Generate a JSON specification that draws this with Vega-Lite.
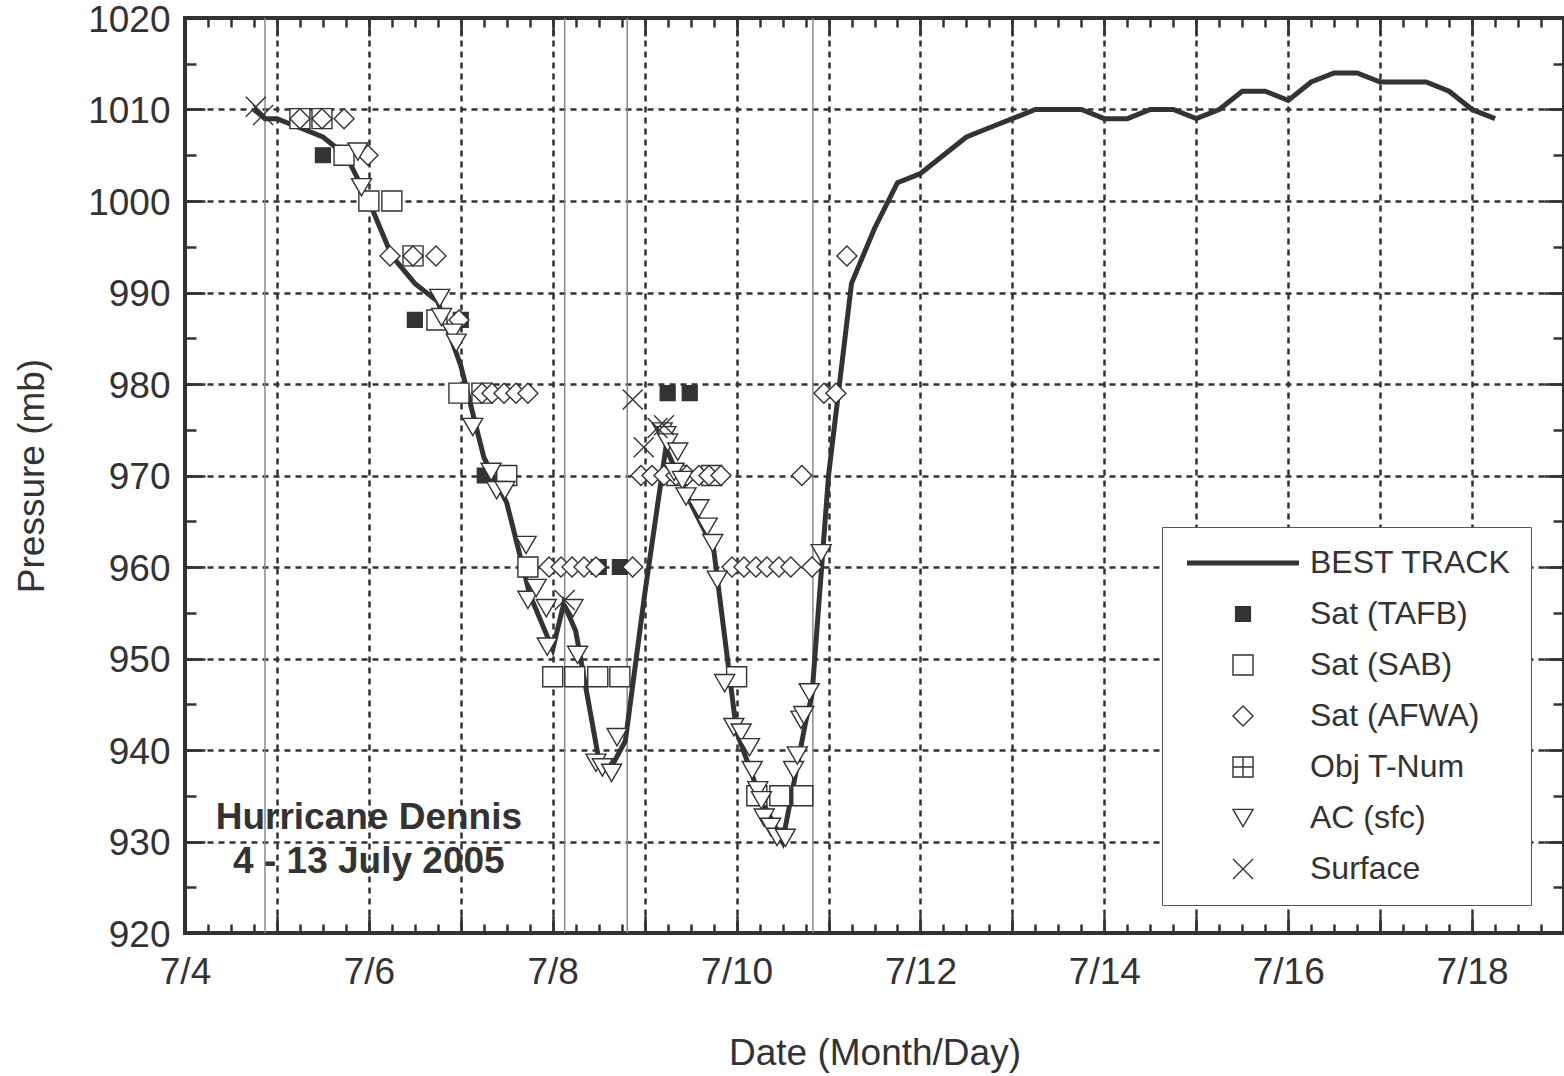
{
  "$schema": "https://vega.github.io/schema/vega-lite/v6.json",
  "width": 1379,
  "height": 915,
  "autosize": {"type": "none"},
  "padding": {"left": 185, "top": 18, "right": 0, "bottom": 143},
  "background": "white",
  "config": {
    "font": "Liberation Sans",
    "view": {"stroke": "#333333", "strokeWidth": 4},
    "axis": {"labelFont": "Liberation Sans", "titleFont": "Liberation Sans", "labelColor": "#333333", "titleColor": "#333333", "tickColor": "#333333", "tickWidth": 2.5, "domain": false, "titleFontWeight": "normal", "labelFontSize": 37, "titleFontSize": 37}
  },
  "resolve": {"axis": {"x": "independent", "y": "independent"}},
  "datasets": {
    "bt": [
      {"d": 4.75, "p": 1010, "source": "BEST TRACK"},
      {"d": 4.87, "p": 1009, "source": "BEST TRACK"},
      {"d": 5.0, "p": 1009, "source": "BEST TRACK"},
      {"d": 5.25, "p": 1008, "source": "BEST TRACK"},
      {"d": 5.5, "p": 1007, "source": "BEST TRACK"},
      {"d": 5.75, "p": 1005, "source": "BEST TRACK"},
      {"d": 6.0, "p": 1000, "source": "BEST TRACK"},
      {"d": 6.25, "p": 994, "source": "BEST TRACK"},
      {"d": 6.5, "p": 991, "source": "BEST TRACK"},
      {"d": 6.75, "p": 989, "source": "BEST TRACK"},
      {"d": 7.0, "p": 982, "source": "BEST TRACK"},
      {"d": 7.25, "p": 972, "source": "BEST TRACK"},
      {"d": 7.5, "p": 967, "source": "BEST TRACK"},
      {"d": 7.75, "p": 957, "source": "BEST TRACK"},
      {"d": 8.0, "p": 951, "source": "BEST TRACK"},
      {"d": 8.12, "p": 956, "source": "BEST TRACK"},
      {"d": 8.25, "p": 953, "source": "BEST TRACK"},
      {"d": 8.5, "p": 939, "source": "BEST TRACK"},
      {"d": 8.63, "p": 938, "source": "BEST TRACK"},
      {"d": 8.79, "p": 941, "source": "BEST TRACK"},
      {"d": 9.0, "p": 957, "source": "BEST TRACK"},
      {"d": 9.23, "p": 973, "source": "BEST TRACK"},
      {"d": 9.5, "p": 967, "source": "BEST TRACK"},
      {"d": 9.75, "p": 962, "source": "BEST TRACK"},
      {"d": 10.0, "p": 942, "source": "BEST TRACK"},
      {"d": 10.25, "p": 935, "source": "BEST TRACK"},
      {"d": 10.5, "p": 930, "source": "BEST TRACK"},
      {"d": 10.75, "p": 943, "source": "BEST TRACK"},
      {"d": 10.82, "p": 946, "source": "BEST TRACK"},
      {"d": 11.0, "p": 970, "source": "BEST TRACK"},
      {"d": 11.25, "p": 991, "source": "BEST TRACK"},
      {"d": 11.5, "p": 997, "source": "BEST TRACK"},
      {"d": 11.75, "p": 1002, "source": "BEST TRACK"},
      {"d": 12.0, "p": 1003, "source": "BEST TRACK"},
      {"d": 12.25, "p": 1005, "source": "BEST TRACK"},
      {"d": 12.5, "p": 1007, "source": "BEST TRACK"},
      {"d": 12.75, "p": 1008, "source": "BEST TRACK"},
      {"d": 13.0, "p": 1009, "source": "BEST TRACK"},
      {"d": 13.25, "p": 1010, "source": "BEST TRACK"},
      {"d": 13.5, "p": 1010, "source": "BEST TRACK"},
      {"d": 13.75, "p": 1010, "source": "BEST TRACK"},
      {"d": 14.0, "p": 1009, "source": "BEST TRACK"},
      {"d": 14.25, "p": 1009, "source": "BEST TRACK"},
      {"d": 14.5, "p": 1010, "source": "BEST TRACK"},
      {"d": 14.75, "p": 1010, "source": "BEST TRACK"},
      {"d": 15.0, "p": 1009, "source": "BEST TRACK"},
      {"d": 15.25, "p": 1010, "source": "BEST TRACK"},
      {"d": 15.5, "p": 1012, "source": "BEST TRACK"},
      {"d": 15.75, "p": 1012, "source": "BEST TRACK"},
      {"d": 16.0, "p": 1011, "source": "BEST TRACK"},
      {"d": 16.25, "p": 1013, "source": "BEST TRACK"},
      {"d": 16.5, "p": 1014, "source": "BEST TRACK"},
      {"d": 16.75, "p": 1014, "source": "BEST TRACK"},
      {"d": 17.0, "p": 1013, "source": "BEST TRACK"},
      {"d": 17.25, "p": 1013, "source": "BEST TRACK"},
      {"d": 17.5, "p": 1013, "source": "BEST TRACK"},
      {"d": 17.75, "p": 1012, "source": "BEST TRACK"},
      {"d": 18.0, "p": 1010, "source": "BEST TRACK"},
      {"d": 18.25, "p": 1009, "source": "BEST TRACK"}
    ],
    "obs": [
      {"d": 5.5, "p": 1005, "source": "Sat (TAFB)"},
      {"d": 5.75, "p": 1005, "source": "Sat (TAFB)"},
      {"d": 6.0, "p": 1000, "source": "Sat (TAFB)"},
      {"d": 6.5, "p": 987, "source": "Sat (TAFB)"},
      {"d": 6.75, "p": 987, "source": "Sat (TAFB)"},
      {"d": 7.0, "p": 987, "source": "Sat (TAFB)"},
      {"d": 7.26, "p": 970, "source": "Sat (TAFB)"},
      {"d": 7.5, "p": 970, "source": "Sat (TAFB)"},
      {"d": 7.75, "p": 960, "source": "Sat (TAFB)"},
      {"d": 8.0, "p": 948, "source": "Sat (TAFB)"},
      {"d": 8.24, "p": 948, "source": "Sat (TAFB)"},
      {"d": 8.5, "p": 960, "source": "Sat (TAFB)"},
      {"d": 8.73, "p": 960, "source": "Sat (TAFB)"},
      {"d": 9.25, "p": 979, "source": "Sat (TAFB)"},
      {"d": 9.49, "p": 979, "source": "Sat (TAFB)"},
      {"d": 9.77, "p": 970, "source": "Sat (TAFB)"},
      {"d": 10.0, "p": 948, "source": "Sat (TAFB)"},
      {"d": 10.47, "p": 935, "source": "Sat (TAFB)"},
      {"d": 10.72, "p": 935, "source": "Sat (TAFB)"},
      {"d": 5.25, "p": 1009, "source": "Sat (SAB)"},
      {"d": 5.49, "p": 1009, "source": "Sat (SAB)"},
      {"d": 5.73, "p": 1005, "source": "Sat (SAB)"},
      {"d": 6.0, "p": 1000, "source": "Sat (SAB)"},
      {"d": 6.25, "p": 1000, "source": "Sat (SAB)"},
      {"d": 6.48, "p": 994, "source": "Sat (SAB)"},
      {"d": 6.74, "p": 987, "source": "Sat (SAB)"},
      {"d": 6.98, "p": 979, "source": "Sat (SAB)"},
      {"d": 7.23, "p": 979, "source": "Sat (SAB)"},
      {"d": 7.5, "p": 970, "source": "Sat (SAB)"},
      {"d": 7.73, "p": 960, "source": "Sat (SAB)"},
      {"d": 8.0, "p": 948, "source": "Sat (SAB)"},
      {"d": 8.24, "p": 948, "source": "Sat (SAB)"},
      {"d": 8.49, "p": 948, "source": "Sat (SAB)"},
      {"d": 8.73, "p": 948, "source": "Sat (SAB)"},
      {"d": 9.35, "p": 970, "source": "Sat (SAB)"},
      {"d": 9.73, "p": 970, "source": "Sat (SAB)"},
      {"d": 10.0, "p": 948, "source": "Sat (SAB)"},
      {"d": 10.22, "p": 935, "source": "Sat (SAB)"},
      {"d": 10.47, "p": 935, "source": "Sat (SAB)"},
      {"d": 10.72, "p": 935, "source": "Sat (SAB)"},
      {"d": 5.25, "p": 1009, "source": "Sat (AFWA)"},
      {"d": 5.49, "p": 1009, "source": "Sat (AFWA)"},
      {"d": 5.73, "p": 1009, "source": "Sat (AFWA)"},
      {"d": 5.99, "p": 1005, "source": "Sat (AFWA)"},
      {"d": 6.23, "p": 994, "source": "Sat (AFWA)"},
      {"d": 6.48, "p": 994, "source": "Sat (AFWA)"},
      {"d": 6.73, "p": 994, "source": "Sat (AFWA)"},
      {"d": 6.98, "p": 987, "source": "Sat (AFWA)"},
      {"d": 7.23, "p": 979, "source": "Sat (AFWA)"},
      {"d": 7.34, "p": 979, "source": "Sat (AFWA)"},
      {"d": 7.47, "p": 979, "source": "Sat (AFWA)"},
      {"d": 7.6, "p": 979, "source": "Sat (AFWA)"},
      {"d": 7.73, "p": 979, "source": "Sat (AFWA)"},
      {"d": 7.96, "p": 960, "source": "Sat (AFWA)"},
      {"d": 8.09, "p": 960, "source": "Sat (AFWA)"},
      {"d": 8.21, "p": 960, "source": "Sat (AFWA)"},
      {"d": 8.34, "p": 960, "source": "Sat (AFWA)"},
      {"d": 8.47, "p": 960, "source": "Sat (AFWA)"},
      {"d": 8.87, "p": 960, "source": "Sat (AFWA)"},
      {"d": 8.96, "p": 970, "source": "Sat (AFWA)"},
      {"d": 9.08, "p": 970, "source": "Sat (AFWA)"},
      {"d": 9.21, "p": 970, "source": "Sat (AFWA)"},
      {"d": 9.34, "p": 970, "source": "Sat (AFWA)"},
      {"d": 9.46, "p": 970, "source": "Sat (AFWA)"},
      {"d": 9.59, "p": 970, "source": "Sat (AFWA)"},
      {"d": 9.7, "p": 970, "source": "Sat (AFWA)"},
      {"d": 9.83, "p": 970, "source": "Sat (AFWA)"},
      {"d": 9.95, "p": 960, "source": "Sat (AFWA)"},
      {"d": 10.08, "p": 960, "source": "Sat (AFWA)"},
      {"d": 10.21, "p": 960, "source": "Sat (AFWA)"},
      {"d": 10.33, "p": 960, "source": "Sat (AFWA)"},
      {"d": 10.46, "p": 960, "source": "Sat (AFWA)"},
      {"d": 10.59, "p": 960, "source": "Sat (AFWA)"},
      {"d": 10.71, "p": 970, "source": "Sat (AFWA)"},
      {"d": 10.82, "p": 960, "source": "Sat (AFWA)"},
      {"d": 10.95, "p": 979, "source": "Sat (AFWA)"},
      {"d": 11.08, "p": 979, "source": "Sat (AFWA)"},
      {"d": 11.2, "p": 994, "source": "Sat (AFWA)"},
      {"d": 5.88, "p": 1005.4, "source": "AC (sfc)"},
      {"d": 5.92, "p": 1001.5, "source": "AC (sfc)"},
      {"d": 6.77, "p": 989.4, "source": "AC (sfc)"},
      {"d": 6.79, "p": 987.3, "source": "AC (sfc)"},
      {"d": 6.91, "p": 985.6, "source": "AC (sfc)"},
      {"d": 6.95, "p": 984.5, "source": "AC (sfc)"},
      {"d": 7.13, "p": 975.3, "source": "AC (sfc)"},
      {"d": 7.33, "p": 970.4, "source": "AC (sfc)"},
      {"d": 7.39, "p": 968.4, "source": "AC (sfc)"},
      {"d": 7.48, "p": 968.4, "source": "AC (sfc)"},
      {"d": 7.71, "p": 962.4, "source": "AC (sfc)"},
      {"d": 7.73, "p": 956.4, "source": "AC (sfc)"},
      {"d": 7.82, "p": 957.7, "source": "AC (sfc)"},
      {"d": 7.93, "p": 955.5, "source": "AC (sfc)"},
      {"d": 7.94, "p": 951.3, "source": "AC (sfc)"},
      {"d": 8.22, "p": 955.5, "source": "AC (sfc)"},
      {"d": 8.27, "p": 950.4, "source": "AC (sfc)"},
      {"d": 8.47, "p": 938.6, "source": "AC (sfc)"},
      {"d": 8.54, "p": 938.1, "source": "AC (sfc)"},
      {"d": 8.64, "p": 937.5, "source": "AC (sfc)"},
      {"d": 8.7, "p": 941.4, "source": "AC (sfc)"},
      {"d": 9.19, "p": 974.8, "source": "AC (sfc)"},
      {"d": 9.23, "p": 974.4, "source": "AC (sfc)"},
      {"d": 9.25, "p": 973.6, "source": "AC (sfc)"},
      {"d": 9.36, "p": 972.6, "source": "AC (sfc)"},
      {"d": 9.32, "p": 970.4, "source": "AC (sfc)"},
      {"d": 9.41, "p": 969.5, "source": "AC (sfc)"},
      {"d": 9.45, "p": 967.7, "source": "AC (sfc)"},
      {"d": 9.59, "p": 966.4, "source": "AC (sfc)"},
      {"d": 9.68, "p": 964.4, "source": "AC (sfc)"},
      {"d": 9.74, "p": 962.6, "source": "AC (sfc)"},
      {"d": 9.79, "p": 958.6, "source": "AC (sfc)"},
      {"d": 9.87, "p": 947.3, "source": "AC (sfc)"},
      {"d": 9.97, "p": 942.5, "source": "AC (sfc)"},
      {"d": 10.05, "p": 941.9, "source": "AC (sfc)"},
      {"d": 10.14, "p": 940.3, "source": "AC (sfc)"},
      {"d": 10.17, "p": 937.8, "source": "AC (sfc)"},
      {"d": 10.23, "p": 935.6, "source": "AC (sfc)"},
      {"d": 10.27, "p": 934.5, "source": "AC (sfc)"},
      {"d": 10.3, "p": 932.6, "source": "AC (sfc)"},
      {"d": 10.37, "p": 931.6, "source": "AC (sfc)"},
      {"d": 10.44, "p": 930.5, "source": "AC (sfc)"},
      {"d": 10.53, "p": 930.4, "source": "AC (sfc)"},
      {"d": 10.62, "p": 937.8, "source": "AC (sfc)"},
      {"d": 10.66, "p": 939.4, "source": "AC (sfc)"},
      {"d": 10.7, "p": 943.3, "source": "AC (sfc)"},
      {"d": 10.73, "p": 943.8, "source": "AC (sfc)"},
      {"d": 10.79, "p": 946.3, "source": "AC (sfc)"},
      {"d": 10.92, "p": 961.5, "source": "AC (sfc)"},
      {"d": 4.77, "p": 1010.3, "source": "Surface"},
      {"d": 4.85, "p": 1009.4, "source": "Surface"},
      {"d": 8.13, "p": 956.4, "source": "Surface"},
      {"d": 8.87, "p": 978.3, "source": "Surface"},
      {"d": 8.99, "p": 973.1, "source": "Surface"},
      {"d": 9.14, "p": 975.2, "source": "Surface"},
      {"d": 9.21, "p": 975.5, "source": "Surface"}
    ],
    "events": [
      {"d": 4.87}, {"d": 8.13}, {"d": 8.81}, {"d": 10.83}
    ],
    "notes": [
      {"d": 6.0, "p": 932.6, "t": "Hurricane Dennis"},
      {"d": 6.0, "p": 927.8, "t": "4 - 13 July 2005"}
    ]
  },
  "layer": [
    {
      "data": {"name": "events"},
      "mark": {"type": "rule", "color": "#8a8a8a", "strokeWidth": 1.5},
      "encoding": {
        "x": {"field": "d", "type": "quantitative", "scale": {"domain": [4, 19], "nice": false, "zero": false},
          "axis": {"orient": "top", "values": [4,4.25,4.5,4.75,5,5.25,5.5,5.75,6,6.25,6.5,6.75,7,7.25,7.5,7.75,8,8.25,8.5,8.75,9,9.25,9.5,9.75,10,10.25,10.5,10.75,11,11.25,11.5,11.75,12,12.25,12.5,12.75,13,13.25,13.5,13.75,14,14.25,14.5,14.75,15,15.25,15.5,15.75,16,16.25,16.5,16.75,17,17.25,17.5,17.75,18,18.25,18.5,18.75,19], "labels": false, "grid": false, "ticks": true, "tickSize": -9, "title": null}}
      }
    },
    {
      "data": {"name": "bt"},
      "mark": {"type": "line", "strokeJoin": "miter", "strokeCap": "butt"},
      "encoding": {
        "x": {"field": "d", "type": "quantitative", "scale": {"domain": [4, 19], "nice": false, "zero": false},
          "axis": {"orient": "bottom", "values": [4,5,6,7,8,9,10,11,12,13,14,15,16,17,18,19], "labelExpr": "datum.value % 2 === 0 ? '7/' + datum.value : ''", "labelOverlap": false, "labelFlush": false, "ticks": false, "grid": true, "gridColor": "#333333", "gridDash": [6, 5], "gridWidth": 2.5, "labelPadding": 21, "title": "Date (Month/Day)", "titlePadding": 45}},
        "y": {"field": "p", "type": "quantitative", "scale": {"domain": [920, 1020], "nice": false, "zero": false},
          "axis": {"orient": "left", "values": [920,930,940,950,960,970,980,990,1000,1010,1020], "format": "d", "ticks": false, "grid": true, "gridColor": "#333333", "gridDash": [6, 5], "gridWidth": 2.5, "labelPadding": 15, "labelOffset": 2, "labelFlush": false, "title": "Pressure (mb)", "titlePadding": 36}},
        "stroke": {"field": "source", "type": "nominal", "title": null,
          "scale": {"domain": ["BEST TRACK", "Sat (TAFB)", "Sat (SAB)", "Sat (AFWA)", "Obj T-Num", "AC (sfc)", "Surface"], "range": ["#333333", "#333333", "#333333", "#333333", "#333333", "#333333", "#333333"]}},
        "strokeWidth": {"field": "source", "type": "nominal", "title": null,
          "scale": {"type": "ordinal", "domain": ["BEST TRACK", "Sat (TAFB)", "Sat (SAB)", "Sat (AFWA)", "Obj T-Num", "AC (sfc)", "Surface"], "range": [5, 1.2, 1.4, 1.4, 1.4, 1.4, 1.4]}}
      }
    },
    {
      "data": {"name": "obs"},
      "mark": {"type": "point", "opacity": 1},
      "encoding": {
        "x": {"field": "d", "type": "quantitative", "scale": {"domain": [4, 19], "nice": false, "zero": false},
          "axis": {"orient": "bottom", "values": [4,5,6,7,8,9,10,11,12,13,14,15,16,17,18,19], "labels": false, "grid": false, "ticks": true, "tickSize": -18, "title": null}},
        "y": {"field": "p", "type": "quantitative", "scale": {"domain": [920, 1020], "nice": false, "zero": false},
          "axis": {"orient": "left", "values": [920,930,940,950,960,970,980,990,1000,1010,1020], "labels": false, "grid": false, "ticks": true, "tickSize": -20, "title": null}},
        "shape": {"field": "source", "type": "nominal", "title": null,
          "scale": {"domain": ["BEST TRACK", "Sat (TAFB)", "Sat (SAB)", "Sat (AFWA)", "Obj T-Num", "AC (sfc)", "Surface"], "range": ["M-5.6,0H5.6", "square", "square", "diamond", "M-1,-1H1V1H-1ZM0,-1V1M-1,0H1", "triangle-down", "M-1,-1L1,1M-1,1L1,-1"]},
          "legend": {"orient": "none", "legendX": 977, "legendY": 509, "direction": "vertical", "padding": 20, "strokeColor": "#555555", "fillColor": "white", "labelFont": "Liberation Sans", "labelFontSize": 32, "labelColor": "#333333", "labelLimit": 400, "labelOffset": 51, "symbolOffset": 45, "rowPadding": 19, "title": null}},
        "fill": {"field": "source", "type": "nominal", "title": null,
          "scale": {"domain": ["BEST TRACK", "Sat (TAFB)", "Sat (SAB)", "Sat (AFWA)", "Obj T-Num", "AC (sfc)", "Surface"], "range": ["white", "#333333", "white", "white", "white", "white", "white"]}},
        "stroke": {"field": "source", "type": "nominal", "title": null,
          "scale": {"domain": ["BEST TRACK", "Sat (TAFB)", "Sat (SAB)", "Sat (AFWA)", "Obj T-Num", "AC (sfc)", "Surface"], "range": ["#333333", "#333333", "#333333", "#333333", "#333333", "#333333", "#333333"]}},
        "size": {"field": "source", "type": "nominal", "title": null,
          "scale": {"type": "ordinal", "domain": ["BEST TRACK", "Sat (TAFB)", "Sat (SAB)", "Sat (AFWA)", "Obj T-Num", "AC (sfc)", "Surface"], "range": [400, 225, 400, 400, 400, 400, 400]}},
        "strokeWidth": {"field": "source", "type": "nominal", "title": null,
          "scale": {"type": "ordinal", "domain": ["BEST TRACK", "Sat (TAFB)", "Sat (SAB)", "Sat (AFWA)", "Obj T-Num", "AC (sfc)", "Surface"], "range": [5, 1.2, 1.4, 1.4, 1.4, 1.4, 1.4]}}
      }
    },
    {
      "data": {"name": "bt"},
      "mark": {"type": "point", "opacity": 0},
      "encoding": {
        "x": {"field": "d", "type": "quantitative", "scale": {"domain": [4, 19], "nice": false, "zero": false},
          "axis": {"orient": "bottom", "values": [4,4.25,4.5,4.75,5,5.25,5.5,5.75,6,6.25,6.5,6.75,7,7.25,7.5,7.75,8,8.25,8.5,8.75,9,9.25,9.5,9.75,10,10.25,10.5,10.75,11,11.25,11.5,11.75,12,12.25,12.5,12.75,13,13.25,13.5,13.75,14,14.25,14.5,14.75,15,15.25,15.5,15.75,16,16.25,16.5,16.75,17,17.25,17.5,17.75,18,18.25,18.5,18.75,19], "labels": false, "grid": false, "ticks": true, "tickSize": -9, "title": null}},
        "y": {"field": "p", "type": "quantitative", "scale": {"domain": [920, 1020], "nice": false, "zero": false},
          "axis": {"orient": "left", "values": [920,925,930,935,940,945,950,955,960,965,970,975,980,985,990,995,1000,1005,1010,1015,1020], "labels": false, "grid": false, "ticks": true, "tickSize": -11, "title": null}}
      }
    },
    {
      "data": {"name": "bt"},
      "mark": {"type": "point", "opacity": 0},
      "encoding": {
        "x": {"field": "d", "type": "quantitative", "scale": {"domain": [4, 19], "nice": false, "zero": false},
          "axis": {"orient": "top", "values": [4,5,6,7,8,9,10,11,12,13,14,15,16,17,18,19], "labels": false, "grid": false, "ticks": true, "tickSize": -18, "title": null}},
        "y": {"field": "p", "type": "quantitative", "scale": {"domain": [920, 1020], "nice": false, "zero": false},
          "axis": {"orient": "right", "values": [920,930,940,950,960,970,980,990,1000,1010,1020], "labels": false, "grid": false, "ticks": true, "tickSize": -20, "title": null}}
      }
    },
    {
      "data": {"name": "bt"},
      "mark": {"type": "point", "opacity": 0},
      "encoding": {
        "x": {"field": "d", "type": "quantitative", "scale": {"domain": [4, 19], "nice": false, "zero": false}, "axis": null},
        "y": {"field": "p", "type": "quantitative", "scale": {"domain": [920, 1020], "nice": false, "zero": false},
          "axis": {"orient": "right", "values": [920,925,930,935,940,945,950,955,960,965,970,975,980,985,990,995,1000,1005,1010,1015,1020], "labels": false, "grid": false, "ticks": true, "tickSize": -11, "title": null}}
      }
    },
    {
      "data": {"name": "notes"},
      "mark": {"type": "text", "font": "Liberation Sans", "fontSize": 37, "fontWeight": "bold", "color": "#333333", "align": "center", "baseline": "middle"},
      "encoding": {
        "x": {"field": "d", "type": "quantitative", "scale": {"domain": [4, 19], "nice": false, "zero": false}, "axis": null},
        "y": {"field": "p", "type": "quantitative", "scale": {"domain": [920, 1020], "nice": false, "zero": false}, "axis": null},
        "text": {"field": "t", "type": "nominal"}
      }
    }
  ]
}
